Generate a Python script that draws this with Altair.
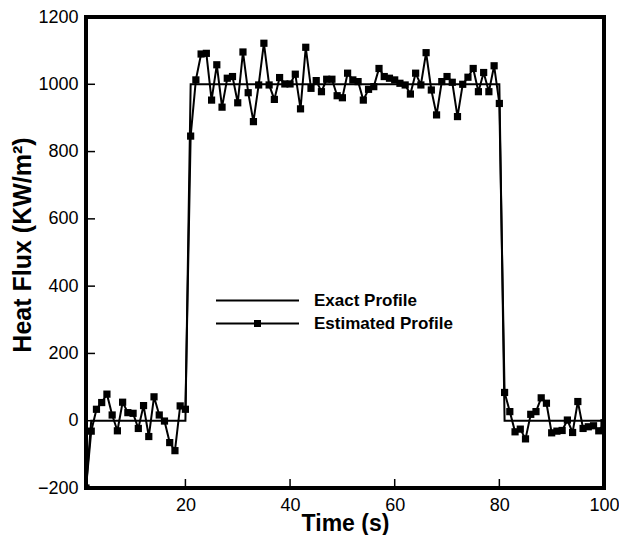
import altair as alt
import pandas as pd

# ---------------- data ----------------
time_s = list(range(1, 101))
estimated = [
    -200, -31, 34, 54, 79, 17, -30, 55, 24, 22,
    -23, 45, -47, 71, 17, -1, -65, -89, 44, 34,
    846, 1013, 1090, 1092, 953, 1058, 932, 1018, 1023, 945,
    1096, 975, 889, 998, 1122, 998, 955, 1020, 1001, 1001,
    1030, 927, 1110, 988, 1011, 978, 1015, 1015, 966, 960,
    1033, 1013, 1008, 953, 985, 993, 1047, 1023, 1018, 1013,
    1003, 998, 971, 1033, 998, 1094, 983, 909, 1008, 1023,
    1006, 904, 1000, 1021, 1047, 978, 1035, 978, 1055, 943,
    84, 27, -33, -25, -54, 19, 27, 68, 52, -36,
    -31, -29, 2, -35, 57, -23, -18, -15, -30, -6,
]
exact_t = [1, 2, 20, 21, 80, 81, 100]
exact_v = [-200, 0, 0, 1000, 1000, 0, 0]

x_label_values = [20, 40, 60, 80, 100]
y_label_values = [-200, 0, 200, 400, 600, 800, 1000, 1200]
x_inner_ticks = [20, 40, 60, 80]
y_inner_ticks = [0, 200, 400, 600, 800, 1000]
series_names = ["Exact Profile", "Estimated Profile"]

# ---------------- tables ----------------
est_df = pd.DataFrame({"t": time_s, "v": estimated, "series": series_names[1]})
exact_df = pd.DataFrame({"t": exact_t, "v": exact_v, "series": series_names[0]})
all_df = pd.concat([exact_df, est_df], ignore_index=True)
xt_df = pd.DataFrame({"t": x_inner_ticks})
yt_df = pd.DataFrame({"v": y_inner_ticks})

FONT = "Liberation Sans"
W, H = 518, 471

x_scale = alt.Scale(domain=[1, 100], nice=False, zero=False)
y_scale = alt.Scale(domain=[-200, 1200], nice=False, zero=False)

x_axis = alt.Axis(
    values=x_label_values, format="d", title="Time (s)", grid=False, domain=False,
    tickSize=0, labelFlush=False,
    labelFont=FONT, labelFontSize=18, labelColor="black", labelPadding=8,
    titleFont=FONT, titleFontSize=23, titleFontWeight="bold", titleColor="black",
    titleBaseline="alphabetic", titleY=42, titleX=W / 2,
)
y_axis = alt.Axis(
    values=y_label_values, format="d", title="Heat Flux (KW/m²)", grid=False, domain=False,
    tickSize=0, labelFlush=False,
    labelFont=FONT, labelFontSize=18, labelColor="black", labelPadding=8,
    titleFont=FONT, titleFontSize=25, titleFontWeight="bold", titleColor="black",
    titleBaseline="alphabetic", titleX=-56, titleY=H / 2 - 8,
)

line_path = "M-8.3,0H8.3"
marker_path = "M-8.3,0H8.3M-0.5,-0.5H0.5V0.5H-0.5ZM-0.2,-0.2H0.2V0.2H-0.2Z"

exact_line = alt.Chart(exact_df).mark_line(color="black", strokeWidth=2, clip=True).encode(
    x=alt.X("t:Q", scale=x_scale, axis=x_axis),
    y=alt.Y("v:Q", scale=y_scale, axis=y_axis),
)
est_line = alt.Chart(est_df).mark_line(color="black", strokeWidth=2, clip=True).encode(
    x="t:Q", y="v:Q"
)
est_pts = alt.Chart(est_df).mark_point(
    shape="square", filled=True, color="black", size=52, opacity=1, clip=True
).encode(x="t:Q", y="v:Q")

legend_layer = alt.Chart(all_df).transform_filter("false").mark_point(
    filled=False, color="black", strokeWidth=2
).encode(
    x="t:Q",
    y="v:Q",
    shape=alt.Shape(
        "series:N",
        scale=alt.Scale(domain=series_names, range=[line_path, marker_path]),
        legend=alt.Legend(
            title=None, orient="none", legendX=163, legendY=275, padding=0,
            symbolSize=100, symbolStrokeWidth=2, symbolOpacity=1,
            labelFont=FONT, labelFontSize=17, labelFontWeight="bold",
            labelColor="black", labelOffset=48, rowPadding=5,
        ),
    ),
)

x_ticks = alt.Chart(xt_df).mark_rule(color="black", strokeWidth=1.5).encode(
    x="t:Q", y=alt.value(H), y2=alt.value(H - 9)
)
y_ticks = alt.Chart(yt_df).mark_rule(color="black", strokeWidth=1.5).encode(
    y="v:Q", x=alt.value(0), x2=alt.value(9)
)

chart = alt.layer(
    exact_line, est_line, est_pts, legend_layer, x_ticks, y_ticks
).properties(
    width=W,
    height=H,
    autosize=alt.AutoSizeParams(type="none"),
    padding={"left": 86, "top": 17, "right": 15, "bottom": 47},
    background="white",
).configure_view(stroke="black", strokeWidth=4)

chart.save("out.html", embed_options={"renderer": "svg", "actions": False})
